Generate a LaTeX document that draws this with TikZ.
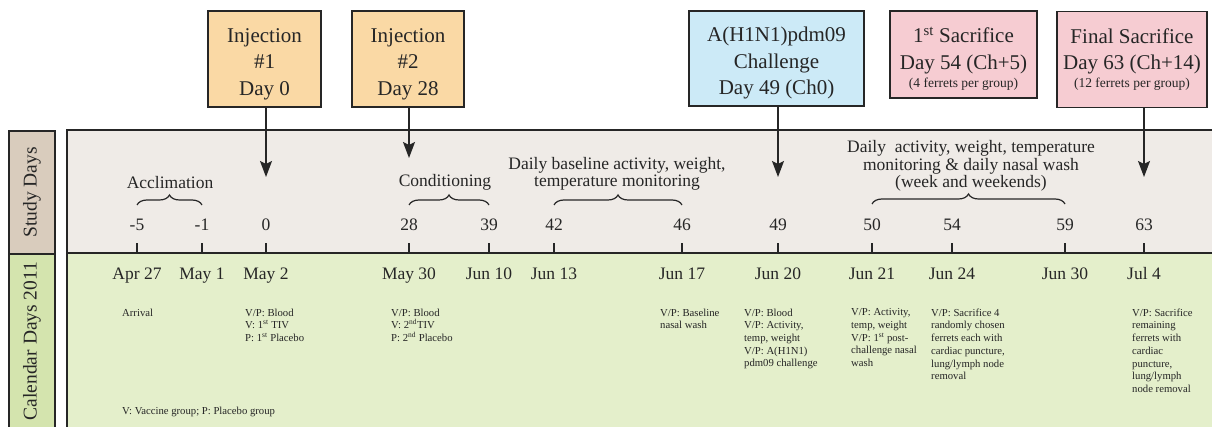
\documentclass[tikz,border=0pt]{standalone}
\usepackage{fontspec}
\setmainfont{Liberation Serif}
\usepackage{tikz}
\usetikzlibrary{arrows.meta,decorations.pathreplacing}

\definecolor{linegray}{HTML}{262626}
\definecolor{bandfill}{HTML}{EFEBE7}
\definecolor{calfill}{HTML}{E4EFCB}
\definecolor{studylbl}{HTML}{D9CCBD}
\definecolor{callbl}{HTML}{D4E4AE}
\definecolor{injfill}{HTML}{FAD9A5}
\definecolor{chalfill}{HTML}{CCEAF7}
\definecolor{sacfill}{HTML}{F6CCD2}

% extra room above the first line of a box
\newcommand{\boxtop}{\rule{0pt}{24pt}}

\begin{document}
\begin{tikzpicture}[x=1pt, y=-1pt, every node/.style={text=linegray},
    eventbox/.style={draw=linegray, line width=1.4pt, align=center, inner sep=0pt, font=\fontsize{21}{26.5}\selectfont},
    daynum/.style={anchor=base, inner sep=0pt, font=\fontsize{17.5}{17.5}\selectfont},
    bandtext/.style={align=center, inner sep=0pt, font=\fontsize{17.5}{17.5}\selectfont},
    notetext/.style={anchor=north west, align=left, inner sep=0pt, font=\fontsize{10.7}{12.7}\selectfont},
    sidelabel/.style={rotate=90, inner sep=0pt, font=\fontsize{19.5}{20}\selectfont},
    brc/.style={decorate, decoration={brace, amplitude=10pt}, line width=1.2pt, draw=linegray},
    arr/.style={-{Stealth[length=16pt, width=12pt, inset=3pt]}, line width=1.4pt, draw=linegray}]

   \useasboundingbox (0,0) rectangle (1212,427);

   % bands and side labels
   \fill[bandfill] (67,130) rectangle (1216,253);
   \fill[calfill] (67,253) rectangle (1216,432);
   \draw[linegray, line width=1.4pt] (1216,130) -- (67,130) -- (67,432);
   \draw[linegray, line width=2.4pt] (67,253) -- (1216,253);
   \draw[linegray, fill=studylbl, line width=1.4pt] (9,131) rectangle (55,254);
   \draw[linegray, fill=callbl, line width=1.4pt] (9,254) rectangle (55,434);
   \node[sidelabel] (study) at (32,192.5) {Study Days};
   \node[sidelabel] (calendar) at (32,341) {Calendar Days 2011};

   % ticks, study days and dates
   \foreach \x/\d/\c [count=\n] in {137/-5/Apr 27, 202/-1/May 1, 266/0/May 2, 409/28/May 30, 489/39/Jun 10, 554/42/Jun 13, 682/46/Jun 17, 778/49/Jun 20, 872/50/Jun 21, 952/54/Jun 24, 1065/59/Jun 30, 1144/63/Jul 4}{
       \coordinate (t\n) at (\x,253);
       \draw[linegray, line width=1.4pt] (t\n) -- ++(0,-10);
       \node[daynum] (s\n) at (\x,230.5) {\d};
       \node[daynum] (c\n) at (\x,279.5) {\c};
   }

   % periods
   \draw[brc] (t1 |- 0,205) -- (t2 |- 0,205);
   \draw[brc] (t4 |- 0,205) -- (t5 |- 0,205);
   \draw[brc] (t6 |- 0,205) -- (t7 |- 0,205);
   \draw[brc] (t9 |- 0,204) -- (t11 |- 0,204);
   \node[bandtext] (accl) at (170,182.5) {Acclimation};
   \node[bandtext] (cond) at (445,182.5) {Conditioning};
   \node[bandtext] (baseline) at (617,174) {Daily baseline activity, weight,\\temperature monitoring};
   \node[bandtext] (monitor) at (971,166) {Daily~ activity, weight, temperature\\monitoring \& daily nasal wash\\(week and weekends)};

   % events
   \node[eventbox, fill=injfill, minimum width=113pt, minimum height=96pt] (inj1) at (264.5,59) {\boxtop Injection\\\#1\\Day 0};
   \node[eventbox, fill=injfill, minimum width=112pt, minimum height=96pt] (inj2) at (408,59) {\boxtop Injection\\\#2\\Day 28};
   \node[eventbox, fill=chalfill, minimum width=175pt, minimum height=95pt] (chal) at (776.5,58.5) {\boxtop A(H1N1)pdm09\\Challenge\\Day 49 (Ch0)};
   \node[eventbox, fill=sacfill, minimum width=147pt, minimum height=87pt] (sac1) at (963.5,54.5) {\boxtop 1\textsuperscript{st} Sacrifice\\Day 54 (Ch+5)\\[-8.5pt]{\fontsize{13.5}{16}\selectfont (4 ferrets per group)}};
   \node[eventbox, fill=sacfill, minimum width=150pt, minimum height=96pt] (sacfin) at (1132,59.5) {Final Sacrifice\\Day 63 (Ch+14)\\[-8.5pt]{\fontsize{13.5}{16}\selectfont (12 ferrets per group)}};

   \coordinate (tip1) at (266,177);
   \coordinate (tip2) at (409,158);
   \coordinate (tip3) at (778,177);
   \coordinate (tip4) at (1144,177);
   \draw[arr] (inj1.south -| tip1) -- (tip1);
   \draw[arr] (inj2.south -| tip2) -- (tip2);
   \draw[arr] (chal.south -| tip3) -- (tip3);
   \draw[arr] (sacfin.south -| tip4) -- (tip4);

   % notes
   \node[notetext] (n1) at (122,308.5) {Arrival};
   \node[notetext] (n2) at (245,308.5) {V/P: Blood\\V: 1\textsuperscript{st} TIV\\P: 1\textsuperscript{st} Placebo};
   \node[notetext] (n3) at (391,308.5) {V/P: Blood\\V: 2\textsuperscript{nd}TIV\\P: 2\textsuperscript{nd} Placebo};
   \node[notetext] (n4) at (660,308.5) {V/P: Baseline\\nasal wash};
   \node[notetext] (n5) at (744,308.5) {V/P: Blood\\V/P: Activity,\\temp, weight\\V/P: A(H1N1)\\pdm09 challenge};
   \node[notetext] (n6) at (851,308.5) {V/P: Activity,\\temp, weight\\V/P: 1\textsuperscript{st} post-\\challenge nasal\\wash};
   \node[notetext] (n7) at (931,308.5) {V/P: Sacrifice 4\\randomly chosen\\ferrets each with\\cardiac puncture,\\lung/lymph node\\removal};
   \node[notetext] (n8) at (1132,308.5) {V/P: Sacrifice\\remaining\\ferrets with\\cardiac\\puncture,\\lung/lymph\\node removal};
   \node[notetext] (legend) at (122,406.5) {V: Vaccine group; P: Placebo group};
\end{tikzpicture}
\end{document}
